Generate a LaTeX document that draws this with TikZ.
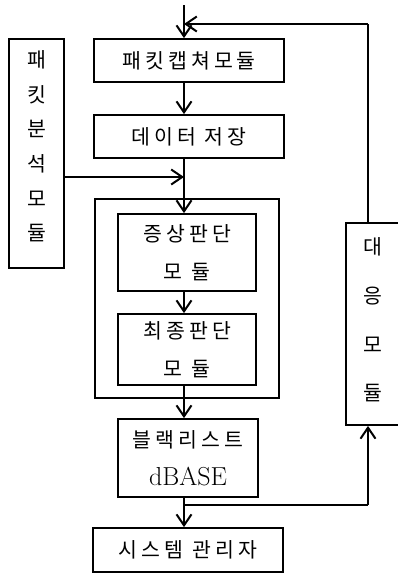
\documentclass[tikz,border=0pt]{standalone}
\usepackage{fontspec}
\newfontfamily\kr[LetterSpace=20]{Noto Sans CJK KR}
\newfontfamily\krv{Noto Sans CJK KR}
\usetikzlibrary{arrows.meta}
\begin{document}
\begin{tikzpicture}[x=1pt,y=-1pt,
  box/.style={draw=black,line width=1.8pt,rectangle,inner sep=0pt,anchor=center,font=\kr\fontsize{20.5}{38}\selectfont,align=center},
  lbl/.style={inner sep=0pt,align=center},
  conn/.style={line width=1.5pt},
  arr/.style={line width=1.5pt,-{Straight Barb[length=11pt,width=15pt,line width=2pt]}}]
\useasboundingbox (0,0) rectangle (398,574);
% boxes
\node[box,minimum width=190pt,minimum height=43pt] (cap) at (189,60.5) {패킷캡쳐모듈};
\node[box,minimum width=190pt,minimum height=43pt] (store) at (189,136.5) {데이터 저장};
\node[box,minimum width=55pt,minimum height=229pt] (ana) at (36.5,153.5) {};
\node[lbl,font=\krv\fontsize{20.5}{34.6}\selectfont] (anat) at (36.5,146.5) {패\\킷\\분\\석\\모\\듈};
\node[box,minimum width=184pt,minimum height=199pt] (outer) at (187,298.5) {};
\node[box,minimum width=138pt,minimum height=77pt] (sym) at (187,252.5) {증상판단\\모 듈};
\node[box,minimum width=138pt,minimum height=71pt] (fin) at (187,349.5) {최종판단\\모 듈};
\node[box,minimum width=140pt,minimum height=78pt] (black) at (188,458) {블랙리스트\\{\fontspec{Latin Modern Roman}\fontsize{26}{38}\selectfont dBASE}};
\node[box,minimum width=190pt,minimum height=44pt] (admin) at (188,550) {시스템 관리자};
\node[box,minimum width=54pt,minimum height=202pt] (resp) at (373,324) {};
\node[lbl,font=\krv\fontsize{20.5}{48.7}\selectfont] (respt) at (373,320) {대\\응\\모\\듈};
% coordinates
\coordinate (topin) at (184,5);
\coordinate (fbtop) at (368,24);
\coordinate (spfb) at (184,24);
\coordinate (br) at (184,505);
\coordinate (brr) at (368,505);
% connectors
\draw[arr] (topin) -- (topin |- cap.north);
\draw[conn] (resp.north -| fbtop) -- (fbtop);
\draw[arr] (fbtop) -- (spfb);
\draw[arr] (cap.south -| topin) -- (store.north -| topin);
\draw[arr] (store.south -| topin) -- (sym.north -| topin);
\draw[arr] (ana.east |- 0,177) -- (184,177);
\draw[arr] (sym.south -| topin) -- (fin.north -| topin);
\draw[arr] (fin.south -| topin) -- (black.north -| topin);
\draw[arr] (black.south -| topin) -- (admin.north -| topin);
\draw[conn] (br) -- (brr);
\draw[arr] (brr) -- (resp.south -| brr);
\end{tikzpicture}
\end{document}
